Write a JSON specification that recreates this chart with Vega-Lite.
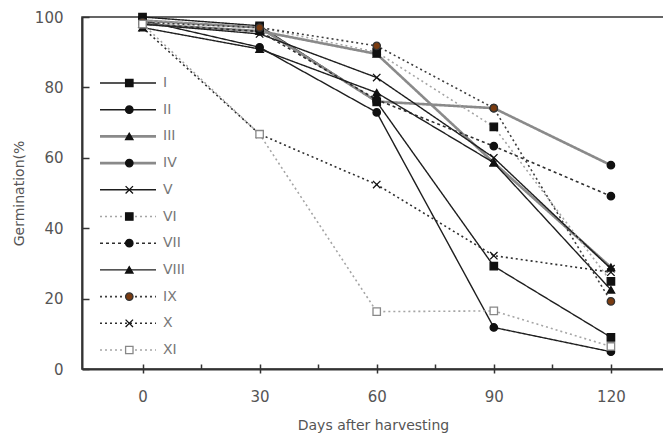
{
  "$schema": "https://vega.github.io/schema/vega-lite/v6.json",
  "width": 582,
  "height": 352,
  "autosize": {"type": "none"},
  "padding": {"left": 82, "top": 17, "right": 0, "bottom": 68},
  "config": {
    "view": {"stroke": "#333", "strokeWidth": 1.5},
    "font": "DejaVu Sans",
    "axis": {"domainColor": "#333", "domainWidth": 2, "tickColor": "#333", "tickWidth": 1.5, "grid": false, "labelColor": "#555", "titleColor": "#555", "labelFont": "DejaVu Sans", "titleFont": "DejaVu Sans", "titleFontWeight": "normal", "labelFontSize": 15, "titleFontSize": 14}
  },
  "data": {"values": [
    {"series": "I", "day": 0, "germ": 100}, {"series": "I", "day": 30, "germ": 97.5}, {"series": "I", "day": 60, "germ": 75.9}, {"series": "I", "day": 90, "germ": 29.2}, {"series": "I", "day": 120, "germ": 9.0},
    {"series": "II", "day": 0, "germ": 99}, {"series": "II", "day": 30, "germ": 91.4}, {"series": "II", "day": 60, "germ": 72.9}, {"series": "II", "day": 90, "germ": 11.8}, {"series": "II", "day": 120, "germ": 4.9},
    {"series": "III", "day": 0, "germ": 98}, {"series": "III", "day": 30, "germ": 96}, {"series": "III", "day": 60, "germ": 89.5}, {"series": "III", "day": 90, "germ": 58.6}, {"series": "III", "day": 120, "germ": 28.9},
    {"series": "IV", "day": 0, "germ": 99}, {"series": "IV", "day": 30, "germ": 97}, {"series": "IV", "day": 60, "germ": 76}, {"series": "IV", "day": 90, "germ": 74.1}, {"series": "IV", "day": 120, "germ": 57.9},
    {"series": "V", "day": 0, "germ": 98}, {"series": "V", "day": 30, "germ": 95.2}, {"series": "V", "day": 60, "germ": 82.8}, {"series": "V", "day": 90, "germ": 60}, {"series": "V", "day": 120, "germ": 28.5},
    {"series": "VI", "day": 0, "germ": 99}, {"series": "VI", "day": 30, "germ": 97}, {"series": "VI", "day": 60, "germ": 90}, {"series": "VI", "day": 90, "germ": 68.8}, {"series": "VI", "day": 120, "germ": 24.9},
    {"series": "VII", "day": 0, "germ": 98}, {"series": "VII", "day": 30, "germ": 95.9}, {"series": "VII", "day": 60, "germ": 76.5}, {"series": "VII", "day": 90, "germ": 63.3}, {"series": "VII", "day": 120, "germ": 49.1},
    {"series": "VIII", "day": 0, "germ": 97}, {"series": "VIII", "day": 30, "germ": 90.9}, {"series": "VIII", "day": 60, "germ": 78.5}, {"series": "VIII", "day": 90, "germ": 58.6}, {"series": "VIII", "day": 120, "germ": 22.5},
    {"series": "IX", "day": 0, "germ": 98.5}, {"series": "IX", "day": 30, "germ": 97}, {"series": "IX", "day": 60, "germ": 91.8}, {"series": "IX", "day": 90, "germ": 74.1}, {"series": "IX", "day": 120, "germ": 19.2},
    {"series": "X", "day": 0, "germ": 97}, {"series": "X", "day": 30, "germ": 66.7}, {"series": "X", "day": 60, "germ": 52.4}, {"series": "X", "day": 90, "germ": 32.2}, {"series": "X", "day": 120, "germ": 27.5},
    {"series": "XI", "day": 0, "germ": 98}, {"series": "XI", "day": 30, "germ": 66.7}, {"series": "XI", "day": 60, "germ": 16.3}, {"series": "XI", "day": 90, "germ": 16.5}, {"series": "XI", "day": 120, "germ": 6.4}
  ]},
  "layer": [
    {
      "mark": {"type": "line", "clip": false},
      "encoding": {
        "x": {"field": "day", "type": "quantitative", "scale": {"domain": [-15.5, 133.6], "nice": false, "zero": false},
              "axis": {"orient": "bottom", "values": [0, 15, 30, 45, 60, 75, 90, 105, 120], "tickSize": -5, "labels": false, "title": null}},
        "y": {"field": "germ", "type": "quantitative", "scale": {"domain": [0, 100], "nice": false},
              "axis": {"values": [0, 20, 40, 60, 80, 100], "tickSize": -7, "labelPadding": 26, "title": "Germination(%", "titleX": -63, "titleY": 176, "titleAngle": -90, "titleAlign": "center", "titleBaseline": "middle"}},
        "color": {"field": "series", "type": "nominal",
                  "scale": {"domain": ["I","II","III","IV","V","VI","VII","VIII","IX","X","XI"], "range": ["#1e1e1e","#1e1e1e","#8a8a8a","#8a8a8a","#1e1e1e","#a5a5a5","#2e2e2e","#1e1e1e","#3e3e3e","#2e2e2e","#a5a5a5"]},
                  "legend": {"orient": "none", "legendX": 39, "legendY": 59, "symbolType": "M-5.6,0H5.6", "symbolSize": 100, "labelOffset": 28, "labelFontSize": 14, "labelColor": "#777", "labelFont": "DejaVu Sans", "title": null, "rowPadding": 12.7}},
        "strokeDash": {"field": "series", "type": "nominal",
                  "scale": {"domain": ["I","II","III","IV","V","VI","VII","VIII","IX","X","XI"], "range": [[1,0],[1,0],[1,0],[1,0],[1,0],[2,3],[3,3],[1,0],[2,3],[2,3],[2,3]]},
                  "legend": {"orient": "none", "legendX": 39, "legendY": 59, "symbolType": "M-5.6,0H5.6", "symbolSize": 100, "labelOffset": 28, "labelFontSize": 14, "labelColor": "#777", "labelFont": "DejaVu Sans", "title": null, "rowPadding": 12.7}},
        "strokeWidth": {"field": "series", "type": "nominal",
                  "scale": {"type": "ordinal", "domain": ["I","II","III","IV","V","VI","VII","VIII","IX","X","XI"], "range": [1.4,1.4,2.6,2.6,1.4,1.6,1.6,1.4,1.6,1.6,1.6]},
                  "legend": {"orient": "none", "legendX": 39, "legendY": 59, "symbolType": "M-5.6,0H5.6", "symbolSize": 100, "labelOffset": 28, "labelFontSize": 14, "labelColor": "#777", "labelFont": "DejaVu Sans", "title": null, "rowPadding": 12.7}}
      }
    },
    {
      "transform": [{"filter": "datum.germ >= 0"}],
      "mark": {"type": "point", "filled": true, "size": 55, "strokeWidth": 1.3, "opacity": 1, "clip": false},
      "encoding": {
        "x": {"field": "day", "type": "quantitative",
              "axis": {"orient": "bottom", "values": [0, 30, 60, 90, 120], "tickSize": 4, "labelPadding": 16, "domain": false, "title": "Days after harvesting", "titlePadding": 14}},
        "y": {"field": "germ", "type": "quantitative"},
        "shape": {"field": "series", "type": "nominal",
                  "scale": {"range": ["square","circle","triangle-up","circle","circle","M-1,-1L1,1M-1,1L1,-1","square","circle","triangle-up","M-1,-1L1,1M-1,1L1,-1","square"]},
                  "legend": {"orient": "none", "legendX": 40.3, "legendY": 59, "values": ["I","II","III","IV","V","VI","VII","VIII","IX","X","XI"], "symbolSize": 55, "labelOpacity": 0, "labelFontSize": 14, "title": null, "rowPadding": 12.7, "symbolStrokeWidth": 1.3}},
        "fill": {"field": "series", "type": "nominal",
                  "scale": {"range": ["#111","#111","#111","#111","#7a3b10","#111","#111","#111","#111","#111","#ffffff"]},
                  "legend": {"orient": "none", "legendX": 40.3, "legendY": 59, "values": ["I","II","III","IV","V","VI","VII","VIII","IX","X","XI"], "symbolSize": 55, "labelOpacity": 0, "labelFontSize": 14, "title": null, "rowPadding": 12.7, "symbolStrokeWidth": 1.3}},
        "stroke": {"field": "series", "type": "nominal",
                  "scale": {"range": ["#111","#111","#111","#111","#333","#111","#111","#111","#111","#111","#888"]},
                  "legend": {"orient": "none", "legendX": 40.3, "legendY": 59, "values": ["I","II","III","IV","V","VI","VII","VIII","IX","X","XI"], "symbolSize": 55, "labelOpacity": 0, "labelFontSize": 14, "title": null, "rowPadding": 12.7, "symbolStrokeWidth": 1.3}}
      }
    }
  ],
  "resolve": {"axis": {"x": "independent"}}
}
